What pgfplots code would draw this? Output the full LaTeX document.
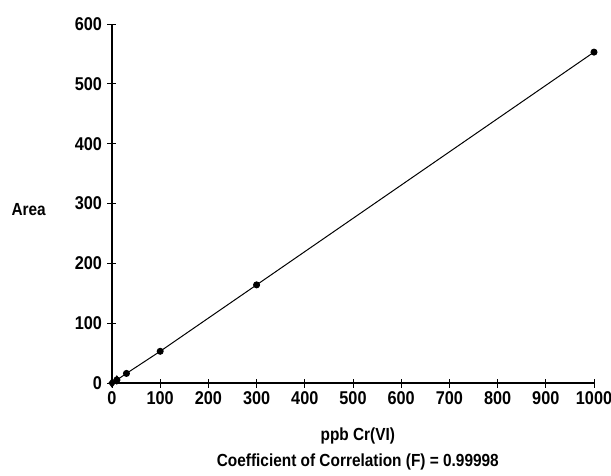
\documentclass[border=0pt]{standalone}
\usepackage{fontspec}
\setmainfont{Liberation Sans}[FakeStretch=0.88]
\usepackage{pgfplots}
\pgfplotsset{compat=1.18}

\begin{document}
\begin{tikzpicture}
\begin{axis}[
    name=main,
    scale only axis,
    width=482bp, height=359bp,
    xmin=0, xmax=1000, ymin=0, ymax=600,
    axis x line=bottom, axis y line=left,
    axis line style={-, line width=1.2pt},
    xtick={0,100,...,1000}, ytick={0,100,...,600},
    tick align=center, major tick length=9bp,
    tick style={black, line width=1pt},
    font=\fontsize{17.5bp}{20bp}\selectfont\bfseries,
    xticklabel={\fontsize{18.5bp}{20bp}\selectfont\bfseries\pgfmathprintnumber{\tick}},
    yticklabel={\fontsize{18.5bp}{20bp}\selectfont\bfseries\pgfmathprintnumber{\tick}},
    /pgf/number format/assume math mode=true,
    /pgf/number format/1000 sep={},
    xticklabel style={yshift=-1bp},
    yticklabel style={xshift=-2bp},
    clip=false,
    xlabel={ppb Cr(VI)\\[6bp]Coefficient of Correlation (F) = 0.99998},
    xlabel style={align=center, at={(rel axis cs:0.51,0)}, anchor=north, yshift=-41bp},
    ylabel={Area},
    ylabel style={rotate=-90, at={(rel axis cs:0,0.482)}, anchor=west, xshift=-104bp},
]
\addplot[black, line width=1pt, mark=*, mark size=3pt] coordinates {
    (10,5) (30,16) (100,53) (300,164) (1000,553)
};
\addplot[black, line width=1pt, mark=diamond*, mark size=4pt] coordinates {
    (0,0) (10,5)
};
\end{axis}
\pgfresetboundingbox
\path[use as bounding box] ([shift={(-112bp,-93bp)}]main.south west) rectangle ([shift={(17bp,24bp)}]main.north east);
\end{tikzpicture}
\end{document}
